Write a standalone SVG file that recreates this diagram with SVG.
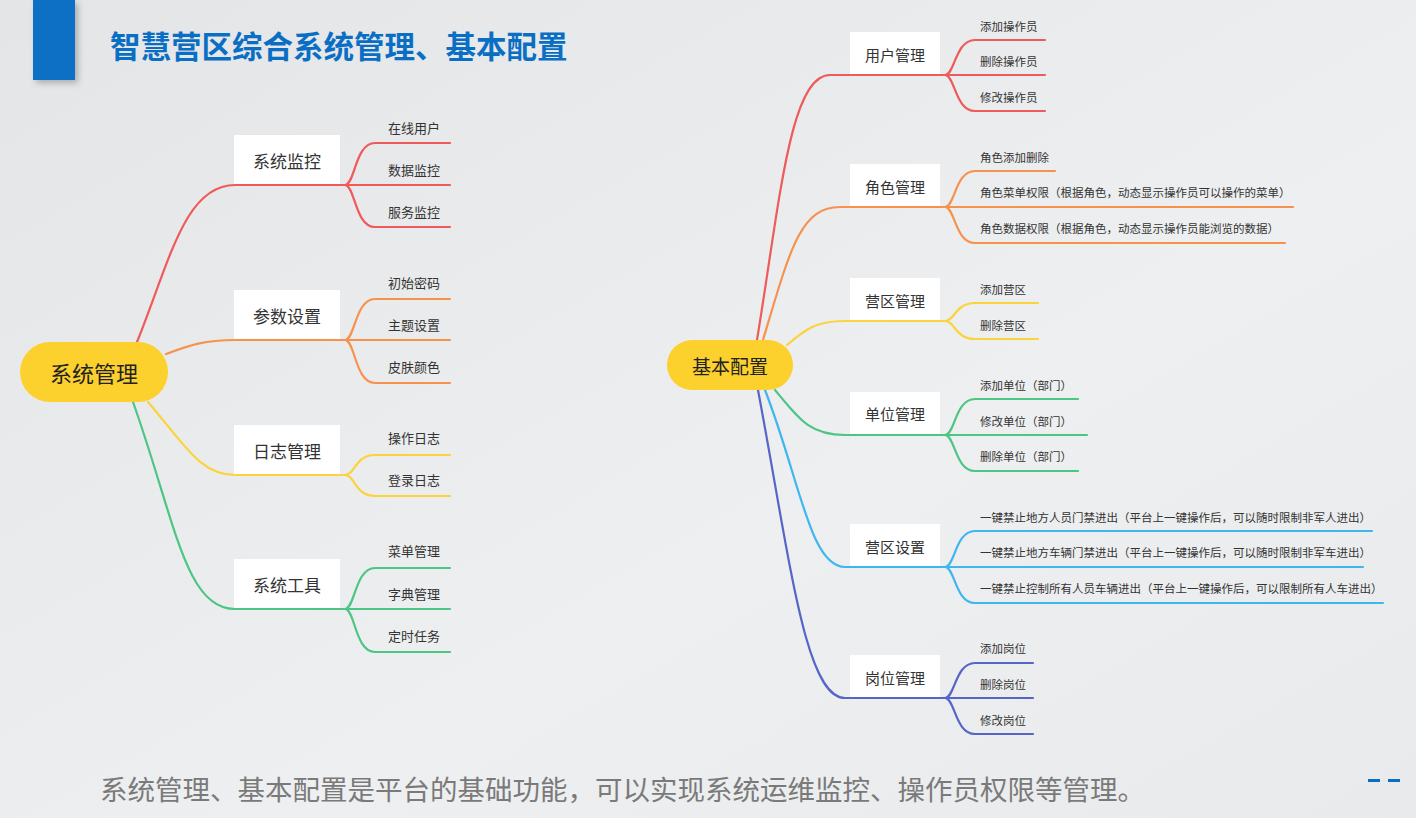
<svg xmlns="http://www.w3.org/2000/svg" width="1416" height="818" viewBox="0 0 1416 818">
<defs>
<linearGradient id="bg" x1="0" y1="0" x2="1" y2="1"><stop offset="0" stop-color="#e4e5e7"/><stop offset="0.6" stop-color="#eeeff0"/><stop offset="1" stop-color="#e9eaeb"/></linearGradient>
<filter id="sh" x="-30%" y="-30%" width="160%" height="160%"><feDropShadow dx="3" dy="3" stdDeviation="3" flood-color="#000" flood-opacity="0.25"/></filter>
<style>
text{font-family:"Noto Sans CJK SC","Noto Sans",sans-serif;}
.box{fill:#fff;}
.b{font-size:17px;fill:#333;text-anchor:middle;dominant-baseline:central;}
.l{font-size:13px;fill:#333;}
.l2{font-size:11.5px;fill:#333;}
.c{fill:none;stroke-width:2.2;stroke-linecap:round;}
.red{stroke:#ef5a5a}.org{stroke:#f7924e}.yel{stroke:#fbd33c}.grn{stroke:#4dc585}.blu{stroke:#3fb6ef}.ind{stroke:#5666c8}
</style>
</defs>
<rect width="1416" height="818" fill="url(#bg)"/>
<rect x="33" y="0" width="42" height="80" fill="#0a6fc4" filter="url(#sh)"/>
<text x="110" y="58" font-size="30.5" font-weight="bold" fill="#0a6fc4">智慧营区综合系统管理、基本配置</text>

<g id="connectors">
<path class="c red" d="M137 342 C170 260 185 185 235 185 H345 M345 185 C355 185 355 143 375 143 H450 M345 185 H450 M345 185 C355 185 355 227 375 227 H450"/>
<path class="c org" d="M166 354 C190 345 205 340 235 340 H345 M345 340 C355 340 355 299 375 299 H450 M345 340 H450 M345 340 C355 340 355 383 375 383 H450"/>
<path class="c yel" d="M148 402 C185 445 200 475 235 475 H345 M345 475 C355 475 355 455 375 455 H450 M345 475 C355 475 355 496 375 496 H450"/>
<path class="c grn" d="M133 402 C175 520 185 609 235 609 H345 M345 609 C355 609 355 568 375 568 H450 M345 609 H450 M345 609 C355 609 355 652 375 652 H450"/>
<path class="c red" d="M757 340 C780 200 790 75 830 75 H945 M945 75 C955 75 955 40 975 40 H1045 M945 75 H1045 M945 75 C955 75 955 111 975 111 H1045"/>
<path class="c org" d="M763 340 C790 250 800 207 840 207 H945 M945 207 C955 207 955 171 975 171 H1055 M945 207 H1293 M945 207 C955 207 955 243 975 243 H1285"/>
<path class="c yel" d="M787 345 C805 330 815 321 845 321 H945 M945 321 C955 321 955 303 975 303 H1038 M945 321 C955 321 955 339 975 339 H1038"/>
<path class="c grn" d="M775 390 C800 420 810 435 845 435 H945 M945 435 C955 435 955 399 975 399 H1078 M945 435 H1087 M945 435 C955 435 955 471 975 471 H1078"/>
<path class="c blu" d="M765 390 C800 480 810 567 845 567 H945 M945 567 C955 567 955 531 975 531 H1372 M945 567 H1363 M945 567 C955 567 955 603 975 603 H1383"/>
<path class="c ind" d="M758 390 C790 560 805 698 845 698 H945 M945 698 C955 698 955 663 975 663 H1033 M945 698 H1033 M945 698 C955 698 955 734 975 734 H1033"/>
</g>

<g id="root-left"><rect x="20" y="342" width="148" height="60" rx="30" fill="#fcd02d"/><text x="94" y="372" font-size="22" fill="#222" text-anchor="middle" dominant-baseline="central">系统管理</text></g>
<g id="n-xtjk"><rect class="box" x="234" y="135" width="106" height="49"/><text class="b" x="287" y="160">系统监控</text></g>
<g id="n-cssz"><rect class="box" x="234" y="290" width="106" height="49"/><text class="b" x="287" y="315">参数设置</text></g>
<g id="n-rzgl"><rect class="box" x="234" y="425" width="106" height="49"/><text class="b" x="287" y="450">日志管理</text></g>
<g id="n-xtgj"><rect class="box" x="234" y="559" width="106" height="49"/><text class="b" x="287" y="584">系统工具</text></g>
<g id="leaves-left">
<text class="l" x="388" y="133">在线用户</text><text class="l" x="388" y="175">数据监控</text><text class="l" x="388" y="217">服务监控</text>
<text class="l" x="388" y="288">初始密码</text><text class="l" x="388" y="330">主题设置</text><text class="l" x="388" y="372">皮肤颜色</text>
<text class="l" x="388" y="443">操作日志</text><text class="l" x="388" y="485">登录日志</text>
<text class="l" x="388" y="556">菜单管理</text><text class="l" x="388" y="599">字典管理</text><text class="l" x="388" y="641">定时任务</text>
</g>

<g id="root-right"><rect x="667" y="340" width="126" height="50" rx="25" fill="#fcd02d"/><text x="730" y="365" font-size="19" fill="#222" text-anchor="middle" dominant-baseline="central">基本配置</text></g>
<g id="n-yhgl"><rect class="box" x="850" y="32" width="90" height="42"/><text class="b" x="895" y="54" style="font-size:15px">用户管理</text></g>
<g id="n-jsgl"><rect class="box" x="850" y="164" width="90" height="42"/><text class="b" x="895" y="186" style="font-size:15px">角色管理</text></g>
<g id="n-yqgl"><rect class="box" x="850" y="278" width="90" height="42"/><text class="b" x="895" y="300" style="font-size:15px">营区管理</text></g>
<g id="n-dwgl"><rect class="box" x="850" y="392" width="90" height="42"/><text class="b" x="895" y="413" style="font-size:15px">单位管理</text></g>
<g id="n-yqsz"><rect class="box" x="850" y="524" width="90" height="42"/><text class="b" x="895" y="546" style="font-size:15px">营区设置</text></g>
<g id="n-gwgl"><rect class="box" x="850" y="655" width="90" height="42"/><text class="b" x="895" y="677" style="font-size:15px">岗位管理</text></g>
<g id="leaves-right">
<text class="l2" x="980" y="31">添加操作员</text><text class="l2" x="980" y="66">删除操作员</text><text class="l2" x="980" y="102">修改操作员</text>
<text class="l2" x="980" y="162">角色添加删除</text><text class="l2" x="980" y="197">角色菜单权限（根据角色，动态显示操作员可以操作的菜单）</text><text class="l2" x="980" y="233">角色数据权限（根据角色，动态显示操作员能浏览的数据）</text>
<text class="l2" x="980" y="294">添加营区</text><text class="l2" x="980" y="330">删除营区</text>
<text class="l2" x="980" y="390">添加单位（部门）</text><text class="l2" x="980" y="426">修改单位（部门）</text><text class="l2" x="980" y="461">删除单位（部门）</text>
<text class="l2" x="980" y="522">一键禁止地方人员门禁进出（平台上一键操作后，可以随时限制非军人进出）</text>
<text class="l2" x="980" y="557">一键禁止地方车辆门禁进出（平台上一键操作后，可以随时限制非军车进出）</text>
<text class="l2" x="980" y="593">一键禁止控制所有人员车辆进出（平台上一键操作后，可以限制所有人车进出）</text>
<text class="l2" x="980" y="653">添加岗位</text><text class="l2" x="980" y="689">删除岗位</text><text class="l2" x="980" y="725">修改岗位</text>
</g>

<text x="100" y="800" font-size="27.5" fill="#7a7a7a">系统管理、基本配置是平台的基础功能，可以实现系统运维监控、操作员权限等管理。</text>
<rect x="1368" y="779" width="12" height="3" fill="#0a6fc4"/><rect x="1388" y="779" width="12" height="3" fill="#0a6fc4"/>
</svg>
